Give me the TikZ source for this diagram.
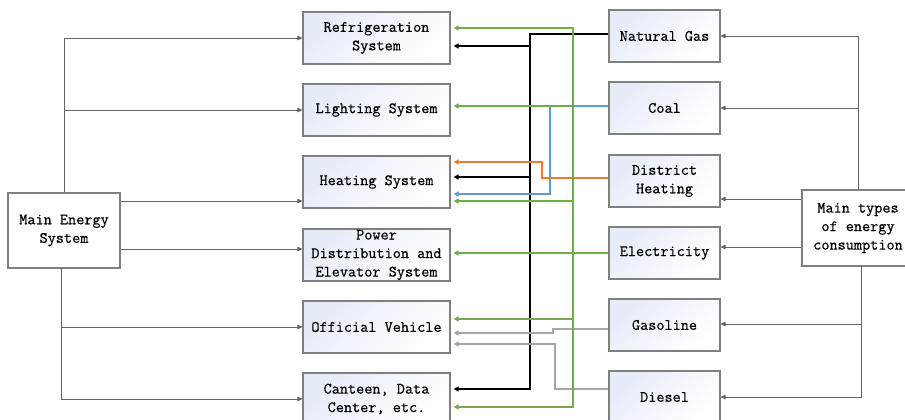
\documentclass[tikz,border=0pt]{standalone}
\usepackage{fontspec}
\newfontfamily\boxfont{Latin Modern Mono}[FakeBold=0.6]
\usetikzlibrary{arrows.meta}

\definecolor{boxline}{RGB}{127,127,127}
\definecolor{treeline}{RGB}{100,100,100}
\definecolor{shadeA}{RGB}{230,236,248}
\definecolor{flowgreen}{RGB}{112,173,71}
\definecolor{floworange}{RGB}{237,125,49}
\definecolor{flowblue}{RGB}{91,155,213}
\definecolor{flowgray}{RGB}{165,165,165}

\begin{document}
\begin{tikzpicture}[x=1pt,y=-1pt,
  every node/.style={font=\boxfont\fontsize{15.8}{18.5}\selectfont,
    align=center, inner sep=0pt, text=black},
  sysbox/.style={draw=boxline, line width=1.1pt, top color=shadeA,
    bottom color=white, shading angle=45, minimum width=147pt, minimum height=52pt},
  srcbox/.style={sysbox, minimum width=111pt},
  mainbox/.style={draw=boxline, line width=1.1pt, fill=white,
    minimum width=112pt, minimum height=75pt},
  tree/.style={draw=treeline, line width=0.9pt,
    -{Triangle[length=5pt,width=4.5pt]}},
  flow/.style={line width=1.8pt, shorten >=3pt,
    -{Triangle[length=5pt,width=5pt]}},
]
\useasboundingbox (0,0) rectangle (905,420);

% consumers of energy
\node[sysbox] (ref)   at (376.5,38)  {Refrigeration\\System};
\node[sysbox] (light) at (376.5,110) {Lighting System};
\node[sysbox] (heat)  at (376.5,182) {Heating System};
\node[sysbox] (pow)   at (376.5,255) {Power\\Distribution and\\Elevator System};
\node[sysbox] (ov)    at (376.5,327) {Official Vehicle};
\node[sysbox] (can)   at (376.5,399) {Canteen, Data\\Center, etc.};

% energy sources
\node[srcbox] (ng)   at (664.5,36)  {Natural Gas};
\node[srcbox] (coal) at (664.5,108) {Coal};
\node[srcbox] (dh)   at (664.5,181) {District\\Heating};
\node[srcbox] (el)   at (664.5,253) {Electricity};
\node[srcbox] (gas)  at (664.5,325) {Gasoline};
\node[srcbox] (dsl)  at (664.5,397) {Diesel};

% the two grouping boxes
\node[mainbox] (mes) at (64,230.5) {Main Energy\\System};
\node[mainbox, minimum height=76pt] (mtc) at (858,228) {Main types\\of energy\\consumption};

% left tree
\coordinate (mesB) at (61,268);
\draw[tree] (mes.north) |- (ref.west);
\draw[tree] (mes.north |- light) -- (light.west);
\draw[tree] (mes.east |- 0,201) -- (heat.west |- 0,201);
\draw[tree] (mes.east |- 0,249) -- (pow.west |- 0,249);
\draw[tree] (mesB) |- (can.west);
\draw[tree] (mesB |- ov) -- (ov.west);

% right tree
\coordinate (mtcB) at (861,266);
\draw[tree] (mtc.north) |- (ng.east);
\draw[tree] (mtc.north |- coal) -- (coal.east);
\draw[tree] (mtc.west |- 0,199) -- (dh.east |- 0,199);
\draw[tree] (mtc.west |- 0,247) -- (el.east |- 0,247);
\draw[tree] (mtcB) |- (dsl.east);
\draw[tree] (mtcB |- 0,324) -- (gas.east |- 0,324);

% natural gas
\coordinate (bkT) at (530,34);
\coordinate (bkB) at (530,389);
\draw[flow, black] (ng.west |- bkT) -- (bkT) -- (bkB) -- (can.east |- bkB);
\draw[flow, black] (bkT |- 0,46) -- (ref.east |- 0,46);
\draw[flow, black] (bkT |- 0,177) -- (heat.east |- 0,177);

% coal
\draw[flow, flowblue] (coal.west |- 0,106) -| (550,194) -- (heat.east |- 0,194);

% district heating
\draw[flow, floworange] (dh.west |- 0,178) -| (542,162) -- (heat.east |- 0,162);

% gasoline and diesel
\draw[flow, flowgray] (gas.west |- 0,329) -| (553,333) -- (ov.east |- 0,333);
\draw[flow, flowgray] (dsl.west |- 0,389) -| (555,344) -- (ov.east |- 0,344);

% electricity
\coordinate (gT) at (573,28);
\coordinate (gB) at (573,407);
\draw[flow, flowgreen, shorten <=3pt, {Triangle[length=5pt,width=5pt]}-{Triangle[length=5pt,width=5pt]}]
  (ref.east |- gT) -- (gT) -- (gB) -- (can.east |- gB);
\draw[flow, flowgreen] (gT |- 0,106) -- (light.east |- 0,106);
\draw[flow, flowgreen] (gT |- 0,201) -- (heat.east |- 0,201);
\draw[flow, flowgreen] (el.west |- 0,253) -- (pow.east |- 0,253);
\draw[flow, flowgreen] (gT |- 0,319) -- (ov.east |- 0,319);
\end{tikzpicture}
\end{document}
